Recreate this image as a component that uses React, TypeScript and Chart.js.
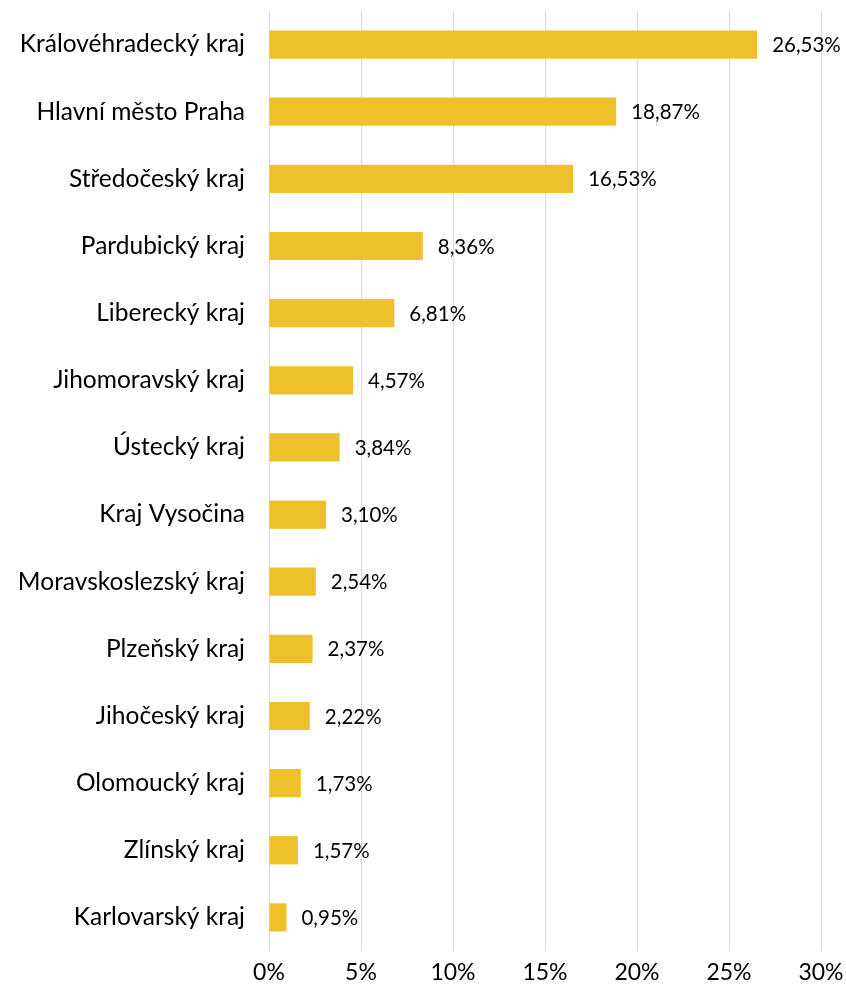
import React, { useEffect, useRef } from "react";
import { Chart, registerables } from "chart.js";

Chart.register(...registerables);

const categories = [
  "Královéhradecký kraj",
  "Hlavní město Praha",
  "Středočeský kraj",
  "Pardubický kraj",
  "Liberecký kraj",
  "Jihomoravský kraj",
  "Ústecký kraj",
  "Kraj Vysočina",
  "Moravskoslezský kraj",
  "Plzeňský kraj",
  "Jihočeský kraj",
  "Olomoucký kraj",
  "Zlínský kraj",
  "Karlovarský kraj",
];

const values = [26.53, 18.87, 16.53, 8.36, 6.81, 4.57, 3.84, 3.1, 2.54, 2.37, 2.22, 1.73, 1.57, 0.95];

const xTicks = [0, 5, 10, 15, 20, 25, 30];

const FONT = "Lato, 'Noto Sans', sans-serif";

const fmt = (v: number) => v.toFixed(2).replace(".", ",") + "%";

const dataLabelPlugin = {
  id: "dataLabels",
  afterDatasetsDraw(chart: any) {
    const ctx = chart.ctx;
    const meta = chart.getDatasetMeta(0);
    ctx.save();
    ctx.font = `20.5px ${FONT}`;
    ctx.fillStyle = "#000";
    ctx.textAlign = "left";
    ctx.textBaseline = "middle";
    meta.data.forEach((bar: any, i: number) => {
      ctx.fillText(fmt(values[i]), bar.x + 15, bar.y + 1);
    });
    ctx.restore();
  },
};

export default function App() {
  const ref = useRef<HTMLCanvasElement>(null);
  useEffect(() => {
    document.body.style.margin = "0";
    const chart = new Chart(ref.current!, {
      type: "bar",
      data: {
        labels: categories,
        datasets: [
          {
            data: values,
            backgroundColor: "#EEC12A",
            borderWidth: 0,
            barPercentage: 0.84,
            categoryPercentage: 0.5,
          },
        ],
      },
      options: {
        indexAxis: "y",
        animation: false,
        responsive: false,
        maintainAspectRatio: false,
        layout: { padding: { top: 11, right: 25, left: 0, bottom: 0 } },
        plugins: { legend: { display: false }, tooltip: { enabled: false } },
        scales: {
          x: {
            min: 0,
            max: 30,
            afterBuildTicks: (scale: any) => {
              scale.ticks = xTicks.map((v) => ({ value: v }));
            },
            afterFit: (scale: any) => {
              scale.height = 45;
              scale.paddingLeft = 0;
              scale.paddingRight = 0;
            },
            grid: { color: "#D9D9D9", lineWidth: 1, drawTicks: false },
            border: { display: false },
            ticks: {
              padding: 8,
              color: "#000",
              font: { family: FONT, size: 23 },
              callback: (v: any) => v + "%",
            },
          },
          y: {
            afterFit: (scale: any) => {
              scale.width = 269;
              scale.paddingTop = 0;
              scale.paddingBottom = 0;
            },
            grid: { display: false, drawTicks: false },
            border: { display: false },
            ticks: {
              padding: 24,
              color: "#000",
              font: { family: FONT, size: 24.5 },
            },
          },
        },
      },
      plugins: [dataLabelPlugin],
    });
    return () => chart.destroy();
  }, []);
  return (
    <div style={{ width: 846, height: 996 }}>
      <canvas ref={ref} width={846} height={996} />
    </div>
  );
}
